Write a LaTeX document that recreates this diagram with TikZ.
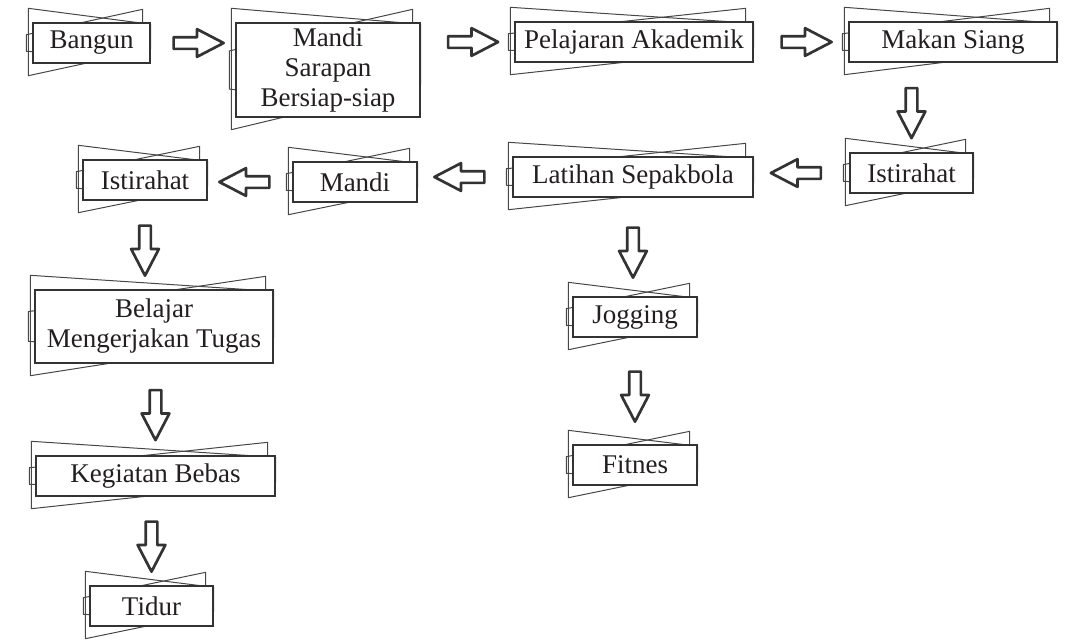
\documentclass[tikz,border=0pt]{standalone}
\usepackage{fontspec}
\setmainfont{Liberation Serif}
\usepackage{tikz}
\usetikzlibrary{shapes,shapes.arrows,calc}
\definecolor{ink}{HTML}{333333}
\definecolor{txt}{HTML}{231F20}
\pgfdeclarelayer{edgelayer}
\pgfdeclarelayer{nodelayer}
\pgfsetlayers{edgelayer,nodelayer,main}
\tikzstyle{card}=[rectangle,fill=white,draw=ink,line width=1.4,text=txt,align=center,font=\fontsize{27}{30}\selectfont,inner sep=0pt]
\tikzstyle{sheet}=[draw=ink!90,line width=1.0,line join=round]
\tikzstyle{flow}=[single arrow,draw=ink,fill=white,line width=2.7,line join=round,minimum height=50,inner sep=4.5,single arrow head extend=8,single arrow tip angle=55]
\tikzstyle{flowright}=[style=flow]
\tikzstyle{flowleft}=[style=flow,shape border rotate=180]
\tikzstyle{flowdown}=[style=flow,shape border rotate=270]

\begin{document}
\begin{tikzpicture}[x=1pt,y=-1pt]
	\useasboundingbox (0,0) rectangle (1066,641);
	\begin{pgfonlayer}{nodelayer}
		\node [style=card, minimum width=117, minimum height=40] (bangun) at (91.5, 43) {Bangun};
		\node [style=card, minimum width=184, minimum height=94] (mandiA) at (328, 70) {Mandi\\Sarapan\\Bersiap-siap};
		\node [style=card, minimum width=238, minimum height=40] (pelajaran) at (634, 42) {Pelajaran Akademik};
		\node [style=card, minimum width=208, minimum height=40] (makan) at (953, 42) {Makan Siang};
		\node [style=card, minimum width=123, minimum height=40] (istR) at (911.5, 173) {Istirahat};
		\node [style=card, minimum width=240, minimum height=40] (latihan) at (633, 177) {Latihan Sepakbola};
		\node [style=card, minimum width=124, minimum height=40] (mandiB) at (355, 182) {Mandi};
		\node [style=card, minimum width=124, minimum height=40] (istL) at (145, 180) {Istirahat};
		\node [style=card, minimum width=238, minimum height=73] (belajar) at (154, 326.5) {Belajar\\Mengerjakan Tugas};
		\node [style=card, minimum width=124, minimum height=40] (jogging) at (635, 317) {Jogging};
		\node [style=card, minimum width=124, minimum height=40] (fitnes) at (635, 465) {Fitnes};
		\node [style=card, minimum width=239, minimum height=40] (kegiatan) at (155.5, 476) {Kegiatan Bebas};
		\node [style=card, minimum width=123, minimum height=40] (tidur) at (151.5, 606) {Tidur};
	\end{pgfonlayer}
	\begin{pgfonlayer}{edgelayer}
		% sheets behind every card
		\foreach \n in {bangun,mandiA,pelajaran,makan,istR,latihan,mandiB,istL,belajar,jogging,fitnes,kegiatan,tidur} {
			\draw [style=sheet] ($(\n.north west)+(-4,-14)$) -- ($(\n.north east)+(0,2)$) -- ($(\n.south east)!0.35!(\n.north east)$) -- ($(\n.south west)+(-4,12)$) -- cycle;
			\draw [style=sheet] ($(\n.north west)!0.3!(\n.south west)+(-6,0)$) -- ($(\n.north east)+(-8,-13)$) -- ($(\n.south east)+(-8,-6)$) -- ($(\n.north west)!0.7!(\n.south west)+(-6,0)$) -- cycle;
		}
		\path (bangun.east) -- (bangun.east -| mandiA.west) node [style=flowright, midway] (a1) {};
		\path (mandiA.east |- pelajaran.west) -- (pelajaran.west) node [style=flowright, midway] (a2) {};
		\path (pelajaran.east) -- (pelajaran.east -| makan.west) node [style=flowright, midway] (a3) {};
		\path (makan.south -| istR.north) -- (istR.north) node [style=flowdown, midway] (a4) {};
		\path (istR.west) -- (istR.west -| latihan.east) node [style=flowleft, midway] (a5) {};
		\path (latihan.west) -- (latihan.west -| mandiB.east) node [style=flowleft, midway] (a6) {};
		\path (mandiB.west) -- (mandiB.west -| istL.east) node [style=flowleft, midway] (a7) {};
		\path (istL.south) -- (istL.south |- belajar.north) node [style=flowdown, midway] (a8) {};
		\path (latihan.south) -- (latihan.south |- jogging.north) node [style=flowdown, midway] (a9) {};
		\path (belajar.south -| kegiatan.north) -- (kegiatan.north) node [style=flowdown, midway] (a10) {};
		\path (jogging.south) -- (fitnes.north) node [style=flowdown, midway] (a11) {};
		\path (kegiatan.south -| tidur.north) -- (tidur.north) node [style=flowdown, midway] (a12) {};
	\end{pgfonlayer}
\end{tikzpicture}
\end{document}
